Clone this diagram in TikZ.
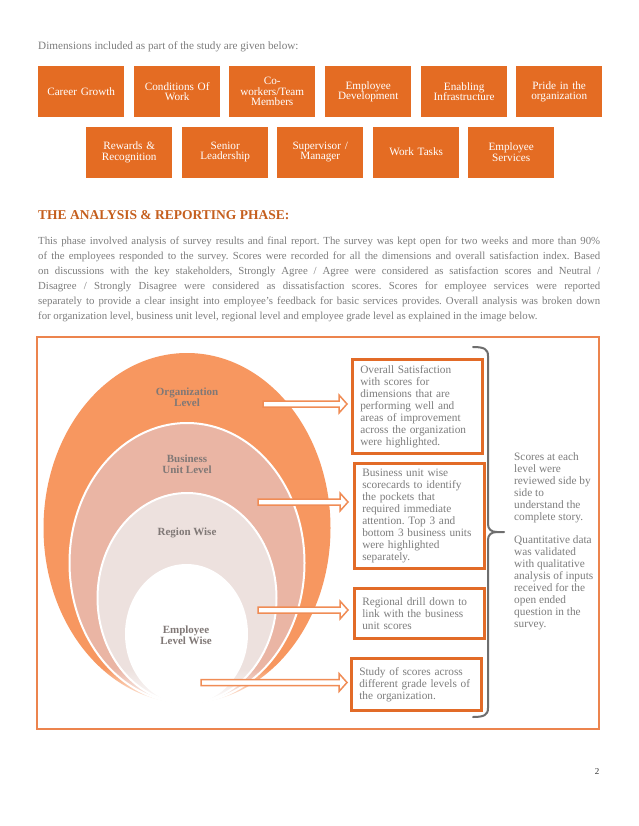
\documentclass[tikz,border=0pt]{standalone}
\usepackage{fontspec}
\setmainfont{Liberation Serif}
\usetikzlibrary{calc,fadings}
\frenchspacing
\definecolor{dimor}{RGB}{228,108,35}
\definecolor{boxor}{RGB}{226,107,40}
\definecolor{frameor}{RGB}{236,132,78}
\definecolor{arrowor}{RGB}{240,140,85}
\definecolor{ellA}{RGB}{247,151,96}
\definecolor{ellB}{RGB}{234,181,164}
\definecolor{ellC}{RGB}{237,225,222}
\definecolor{txtgray}{RGB}{125,125,125}
\definecolor{lblgray}{RGB}{128,120,118}
\definecolor{titleor}{RGB}{197,95,30}
\definecolor{bracegray}{RGB}{110,110,110}
\tikzfading[name=fadedown, top color=transparent!100, bottom color=transparent!0]
\newcommand{\blockarrow}[2]{%
  \draw[barrow] ($(#1)+(0,-3)$) -- ($(#2)+(-8,-3)$) -- ($(#2)+(-8,-9)$) -- (#2)
    -- ($(#2)+(-8,9)$) -- ($(#2)+(-8,3)$) -- ($(#1)+(0,3)$) -- cycle;}
\begin{document}
\frenchspacing
\begin{tikzpicture}[x=1pt,y=-1pt,
  dim/.style={fill=dimor, text=white, anchor=north west, minimum width=86pt,
    minimum height=51pt, text width=80pt, align=center, inner sep=0pt,
    font=\fontsize{11.2}{10.5}\selectfont},
  rbox/.style={draw=boxor, line width=2.5pt, fill=white, anchor=north west,
    inner xsep=8pt, inner ysep=0pt, text width=114pt, align=left, text=txtgray,
    font=\fontsize{11.3}{12}\selectfont},
  lbl/.style={align=center, text=lblgray, inner sep=0pt,
    font=\fontsize{11}{11}\selectfont\bfseries},
  barrow/.style={draw=arrowor, fill=white, line width=1.5pt, line join=miter},
  plain/.style={inner sep=0pt, text=txtgray}]
\useasboundingbox (0,0) rectangle (638,826);
\fill[white] (0,0) rectangle (638,826);

% intro line
\node[plain, anchor=base west, font=\fontsize{11.2}{14}\selectfont] (intro) at (38,49.5)
  {Dimensions included as part of the study are given below:};

% dimension boxes
\node[dim] (d1) at (38,66) {Career Growth};
\node[dim] (d2) at (134,66) {Conditions Of\\Work};
\node[dim] (d3) at (229,66) {Co-\\workers/Team\\Members};
\node[dim] (d4) at (325,66) {Employee\\Development};
\node[dim] (d5) at (421,66) {Enabling\\Infrastructure};
\node[dim] (d6) at (516,66) {Pride in the\\organization};
\node[dim] (d7) at (86,126.5) {Rewards \&\\Recognition};
\node[dim] (d8) at (182,126.5) {Senior\\Leadership};
\node[dim] (d9) at (277,126.5) {Supervisor /\\Manager};
\node[dim] (d10) at (373,126.5) {Work Tasks};
\node[dim] (d11) at (468,126.5) {Employee\\Services};

% title
\node[anchor=base west, inner sep=0pt, text=titleor,
  font=\fontsize{13.5}{16}\selectfont\bfseries] (title) at (38,219.5)
  {THE ANALYSIS \& REPORTING PHASE:};

% paragraph
\node[plain, anchor=north west, align=left, font=\fontsize{10.8}{15}\selectfont\frenchspacing] (para) at (38,234)
{\strut\makebox[562pt][s]{This phase involved analysis of survey results and final report. The survey was kept open for two weeks and more than 90\%}\\
\makebox[562pt][s]{of the employees responded to the survey. Scores were recorded for all the dimensions and overall satisfaction index. Based}\\
\makebox[562pt][s]{on discussions with the key stakeholders, Strongly Agree / Agree were considered as satisfaction scores and Neutral /}\\
\makebox[562pt][s]{Disagree / Strongly Disagree were considered as dissatisfaction scores. Scores for employee services were reported}\\
\makebox[562pt][s]{separately to provide a clear insight into employee's feedback for basic services provides. Overall analysis was broken down}\\
for organization level, business unit level, regional level and employee grade level as explained in the image below.};

% frame
\draw[frameor, line width=2pt] (37,337) rectangle (599,729);

% nested ellipses
\path[fill=ellA] (187,528) ellipse [x radius=143.5pt, y radius=175pt];
\path[fill=ellB, draw=white, line width=2pt] (187,563) ellipse [x radius=117.5pt, y radius=140pt];
\path[fill=ellC, draw=white, line width=2pt] (187,598) ellipse [x radius=89.5pt, y radius=105pt];
\path[fill=white, draw=white, line width=2pt] (186.5,634) ellipse [x radius=60.5pt, y radius=69pt];
\fill[white, path fading=fadedown] (40,668) rectangle (340,706);

% ellipse labels
\node[lbl] (lorg) at (187,397) {Organization\\Level};
\node[lbl] (lbu) at (187,464) {Business\\Unit Level};
\node[lbl] (lreg) at (187,533) {Region Wise};
\node[lbl] (lemp) at (186,635) {Employee\\Level Wise};

% right boxes
\node[rbox, minimum height=94pt] (b1) at (351,358)
  {Overall Satisfaction\\with scores for\\dimensions that are\\performing well and\\areas of improvement\\across the organization\\were highlighted.};
\node[rbox, minimum height=105pt] (b2) at (353,462)
  {Business unit wise\\scorecards to identify\\the pockets that\\required immediate\\attention. Top 3 and\\bottom 3 business units\\were highlighted\\separately.};
\node[rbox, minimum height=50pt] (b3) at (353,587)
  {Regional drill down to\\link with the business\\unit scores};
\node[rbox, minimum height=52pt] (b4) at (350,657)
  {Study of scores across\\different grade levels of\\the organization.};

% block arrows
\coordinate (t1) at (263,404);
\coordinate (t2) at (258,502);
\coordinate (t3) at (258,610);
\coordinate (t4) at (201,682.5);
\coordinate (h1) at ($(b1.west |- t1)+(-4,0)$);
\coordinate (h2) at ($(b2.west |- t2)+(-5,0)$);
\coordinate (h3) at ($(b3.west |- t3)+(-5,0)$);
\coordinate (h4) at ($(b4.west |- t4)+(-3,0)$);
\blockarrow{t1}{h1}
\blockarrow{t2}{h2}
\blockarrow{t3}{h3}
\blockarrow{t4}{h4}

% bracket
\draw[bracegray, line width=2pt, line cap=round, line join=round]
  (473,347) .. controls (484,347) and (488,349) .. (488,356) -- (488,524)
  .. controls (488,529) and (491,532) .. (497,532) -- (504,532)
  (497,532) .. controls (491,532) and (488,535) .. (488,540) -- (488,708)
  .. controls (488,715) and (484,717) .. (473,717);

% side text
\node[plain, anchor=north west, align=left, font=\fontsize{11.3}{12}\selectfont] (side) at (514,452)
  {\strut Scores at each\\level were\\reviewed side by\\side to\\understand the\\complete story.\\[11pt]
   Quantitative data\\was validated\\with qualitative\\analysis of inputs\\received for the\\open ended\\question in the\\survey.};

% page number
\node[inner sep=0pt, text=black!80, font=\fontsize{9}{9}\selectfont] (pg) at (597,772) {2};
\end{tikzpicture}
\end{document}
